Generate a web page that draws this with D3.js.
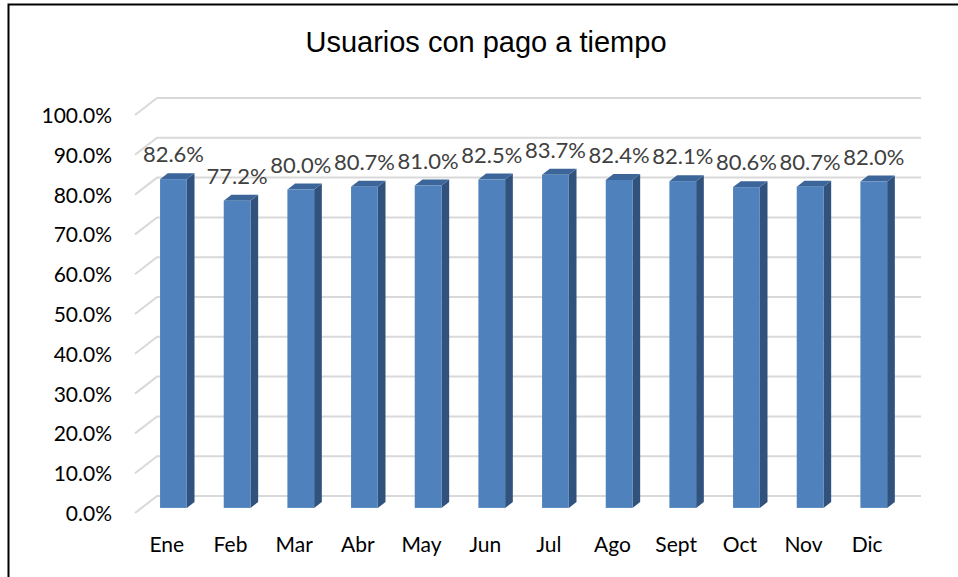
<!DOCTYPE html>
<html>
<head>
<meta charset="utf-8">
<script src="https://cdn.jsdelivr.net/npm/d3@7"></script>
<style>
  body { margin: 0; background: #fff; }
  svg { display: block; }
</style>
</head>
<body>
<svg id="chart"></svg>
<script>
// Chart data
const months = ["Ene", "Feb", "Mar", "Abr", "May", "Jun", "Jul", "Ago", "Sept", "Oct", "Nov", "Dic"];
const onTimePct = [82.6, 77.2, 80.0, 80.7, 81.0, 82.5, 83.7, 82.4, 82.1, 80.6, 80.7, 82.0];
const yTicks = [0, 10, 20, 30, 40, 50, 60, 70, 80, 90, 100];

const width = 958;
const height = 577;

// pseudo-3D depth: offset of the back wall from the front plane
const depthDx = 22;
const depthDy = -17;
const barZ0 = 0.3;   // bar front, fraction of depth
const barZ1 = 0.65;  // bar back

const svg = d3.select("#chart")
  .attr("width", width)
  .attr("height", height);

// outer border (right/bottom run off the picture)
svg.append("rect")
  .attr("x", 8.5).attr("y", 4.5)
  .attr("width", 960).attr("height", 600)
  .attr("fill", "none")
  .attr("stroke", "#000")
  .attr("stroke-width", 2);

// Scales in the front plane
const x = d3.scaleBand()
  .domain(months)
  .range([135, 899]);

const y = d3.scaleLinear()
  .domain([0, 100])
  .range([513, 115]);

const shift = z => [depthDx * z, depthDy * z];

// Title
svg.append("text")
  .attr("x", 486)
  .attr("y", 52)
  .attr("text-anchor", "middle")
  .attr("font-family", "Liberation Sans, Arial, sans-serif")
  .attr("font-size", 29)
  .attr("fill", "#000")
  .text("Usuarios con pago a tiempo");

// Gridlines: back wall + slanted side line
const grid = svg.append("g").attr("stroke", "#d9d9d9").attr("stroke-width", 2).attr("fill", "none");
yTicks.forEach(t => {
  const yb = y(t) + depthDy;
  grid.append("path")
    .attr("d", `M${x.range()[0]},${y(t)} L${x.range()[0] + depthDx},${yb} L${x.range()[1] + depthDx},${yb}`);
});

// Y axis labels
svg.append("g")
  .selectAll("text")
  .data(yTicks)
  .join("text")
    .attr("x", 112)
    .attr("y", d => y(d) + 8)
    .attr("text-anchor", "end")
    .attr("font-family", "Lato, sans-serif")
    .attr("font-size", 21)
    .attr("fill", "#000")
    .text(d => d3.format(".1f")(d) + "%");

// Bars
const barW = x.bandwidth() * 0.42;
const [fdx, fdy] = shift(barZ0);
const [bdx, bdy] = shift(barZ1);
const sdx = bdx - fdx, sdy = bdy - fdy;

const bars = svg.append("g")
  .selectAll("g")
  .data(months.map((m, i) => ({ m, v: onTimePct[i] })))
  .join("g");

bars.each(function(d) {
  const g = d3.select(this);
  const x0 = x(d.m) + x.bandwidth() / 2 - barW / 2 + fdx;
  const x1 = x0 + barW;
  const yTop = y(d.v) + fdy;
  const yBot = y(0) + fdy;

  // right side
  g.append("path")
    .attr("d", `M${x1},${yTop} L${x1 + sdx},${yTop + sdy} L${x1 + sdx},${yBot + sdy} L${x1},${yBot} Z`)
    .attr("fill", "#31527d");
  // top
  g.append("path")
    .attr("d", `M${x0},${yTop} L${x0 + sdx},${yTop + sdy} L${x1 + sdx},${yTop + sdy} L${x1},${yTop} Z`)
    .attr("fill", "#3c6699");
  // front
  g.append("rect")
    .attr("x", x0).attr("y", yTop)
    .attr("width", barW).attr("height", yBot - yTop)
    .attr("fill", "#4f81bd");
});

// Data labels
svg.append("g")
  .selectAll("text")
  .data(months.map((m, i) => ({ m, v: onTimePct[i] })))
  .join("text")
    .attr("x", d => x(d.m) + x.bandwidth() / 2 + fdx)
    .attr("y", d => y(d.v) + fdy - 17)
    .attr("text-anchor", "middle")
    .attr("font-family", "Lato, sans-serif")
    .attr("font-size", 22)
    .attr("fill", "#404040")
    .text(d => d.v.toFixed(1) + "%");

// Category labels
svg.append("g")
  .selectAll("text")
  .data(months)
  .join("text")
    .attr("x", d => x(d) + x.bandwidth() / 2)
    .attr("y", 552)
    .attr("text-anchor", "middle")
    .attr("font-family", "Lato, sans-serif")
    .attr("font-size", 21)
    .attr("fill", "#000")
    .text(d => d);
</script>
</body>
</html>
